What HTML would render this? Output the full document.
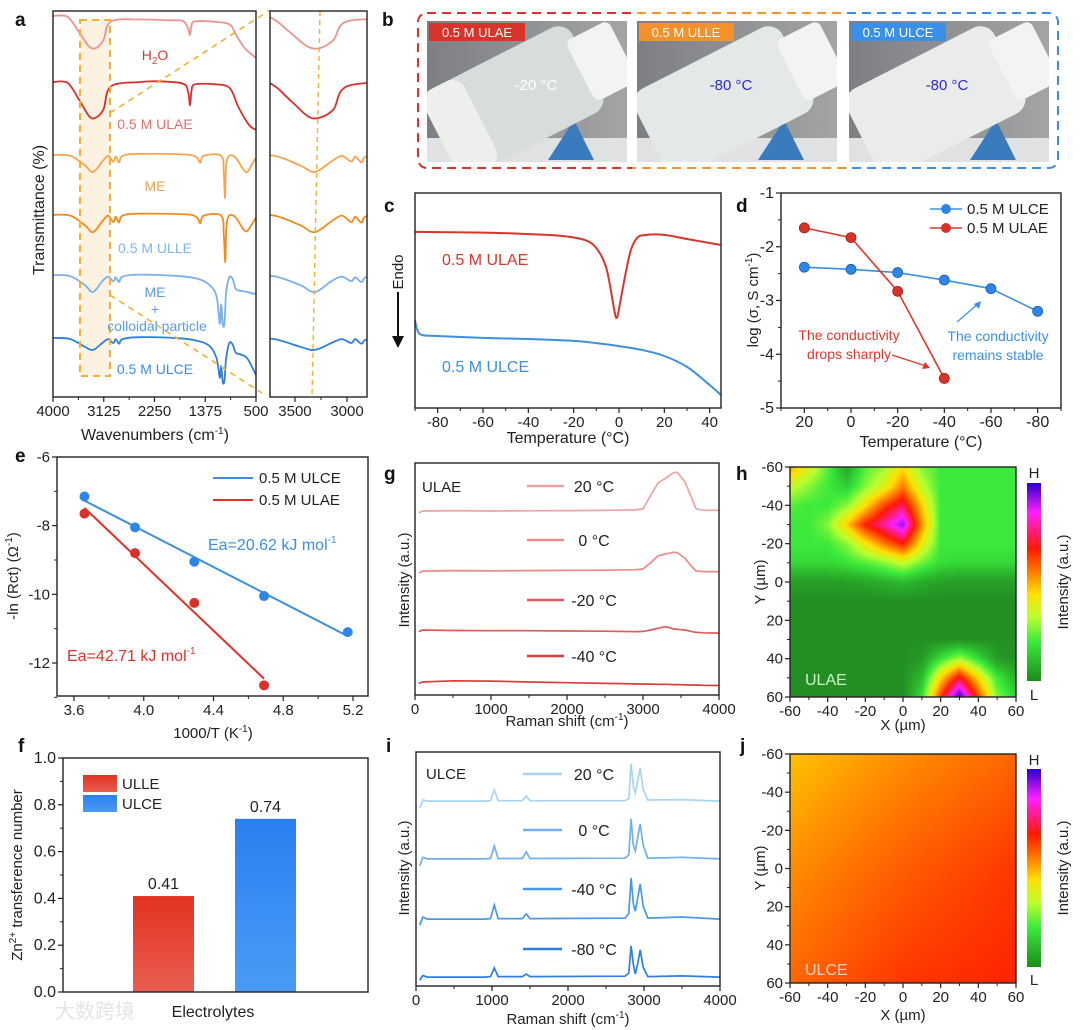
<!DOCTYPE html>
<html><head><meta charset="utf-8">
<style>
body{margin:0;background:#fff;width:1080px;height:1030px;overflow:hidden;position:relative;font-family:"Liberation Sans",Arial,sans-serif}
canvas{position:absolute}
#fig{position:absolute;left:0;top:0}
</style></head>
<body>
<canvas id="hmH" width="226" height="230" style="left:790px;top:467px"></canvas>
<canvas id="hmJ" width="226" height="229" style="left:790px;top:754px"></canvas>
<svg id="fig" width="1080" height="1030" xmlns="http://www.w3.org/2000/svg" font-family="Liberation Sans, Arial, sans-serif">
<defs>
<linearGradient id="photoBg" x1="0" y1="0" x2="1" y2="0"><stop offset="0" stop-color="#7d7f82"/><stop offset="1" stop-color="#a2a4a6"/></linearGradient>
<linearGradient id="barRed" x1="0" y1="0" x2="0" y2="1"><stop offset="0" stop-color="#e2321f"/><stop offset="1" stop-color="#e95d52"/></linearGradient>
<linearGradient id="barBlue" x1="0" y1="0" x2="0" y2="1"><stop offset="0" stop-color="#2a80f2"/><stop offset="1" stop-color="#4b9bf5"/></linearGradient>
<linearGradient id="cbar" x1="0" y1="0" x2="0" y2="1"><stop offset="0" stop-color="#2a00d0"/><stop offset="0.15" stop-color="#ff20ff"/><stop offset="0.33" stop-color="#ff1a00"/><stop offset="0.45" stop-color="#ff7a00"/><stop offset="0.56" stop-color="#ffe000"/><stop offset="0.68" stop-color="#b8ff30"/><stop offset="0.8" stop-color="#3cea3c"/><stop offset="1" stop-color="#1a8c1a"/></linearGradient>
<clipPath id="clipA"><rect x="53" y="11" width="203" height="386"/></clipPath>
<clipPath id="clipAi"><rect x="270" y="11" width="97" height="386"/></clipPath>
<clipPath id="cRed"><rect x="410" y="0" width="222" height="180"/></clipPath>
<clipPath id="cOr"><rect x="632" y="0" width="213" height="180"/></clipPath>
<clipPath id="cBl"><rect x="845" y="0" width="230" height="180"/></clipPath>
<clipPath id="photoClip"><rect x="427" y="21" width="200" height="141"/></clipPath>
</defs>

<!-- panel letters -->
<g font-weight="bold" font-size="19" fill="#111">
<text x="15" y="26">a</text>
<text x="382" y="26">b</text>
<text x="384" y="212">c</text>
<text x="736" y="212">d</text>
<text x="15" y="462">e</text>
<text x="384" y="480">g</text>
<text x="736" y="480">h</text>
<text x="18" y="752">f</text>
<text x="386" y="752">i</text>
<text x="740" y="752">j</text>
</g>

<!-- panel b photos -->
<g>
<rect x="418" y="13" width="640" height="155" rx="9" fill="none" stroke="#e0302a" stroke-width="2" stroke-dasharray="9,6" clip-path="url(#cRed)"/>
<rect x="418" y="13" width="640" height="155" rx="9" fill="none" stroke="#f5962e" stroke-width="2" stroke-dasharray="9,6" clip-path="url(#cOr)"/>
<rect x="418" y="13" width="640" height="155" rx="9" fill="none" stroke="#3a8fe8" stroke-width="2" stroke-dasharray="9,6" clip-path="url(#cBl)"/>
<g><g clip-path="url(#photoClip)">
<rect x="427" y="21" width="200" height="141" fill="url(#photoBg)"/>
<rect x="427" y="138" width="200" height="24" fill="#dfe1e3"/>
<line x1="470" y1="150" x2="590" y2="118" stroke="#999" stroke-width="2"/>
<polygon points="548,160 574,120 594,160" fill="#3a7bbd"/>
<g transform="rotate(-27 515 98)"><rect x="430" y="52" width="165" height="96" rx="16" fill="#d7dddd"/><rect x="430" y="52" width="45" height="96" rx="14" fill="#eeeeee"/></g>
<g transform="rotate(-27 600 62)"><rect x="578" y="28" width="48" height="68" rx="7" fill="#f3f3f3"/></g>
</g></g>
<g transform="translate(210,0)"><g clip-path="url(#photoClip)">
<rect x="427" y="21" width="200" height="141" fill="url(#photoBg)"/>
<rect x="427" y="138" width="200" height="24" fill="#dfe1e3"/>
<polygon points="548,160 574,120 594,160" fill="#3a7bbd"/>
<g transform="rotate(-27 515 98)"><rect x="430" y="52" width="165" height="96" rx="16" fill="#e4e8e8"/></g>
<g transform="rotate(-27 600 62)"><rect x="578" y="28" width="48" height="68" rx="7" fill="#f3f3f3"/></g>
</g></g>
<g transform="translate(422,0)"><g clip-path="url(#photoClip)">
<rect x="427" y="21" width="200" height="141" fill="url(#photoBg)"/>
<rect x="427" y="138" width="200" height="24" fill="#dfe1e3"/>
<polygon points="548,160 574,120 594,160" fill="#3a7bbd"/>
<g transform="rotate(-27 515 98)"><rect x="430" y="52" width="165" height="96" rx="16" fill="#eaecec"/></g>
<g transform="rotate(-27 600 62)"><rect x="578" y="28" width="48" height="68" rx="7" fill="#f3f3f3"/></g>
</g></g>
<rect x="429" y="23" width="96" height="18" fill="#d9342b"/>
<text x="477" y="37" font-size="13" fill="#fff" text-anchor="middle">0.5 M ULAE</text>
<rect x="639" y="23" width="95" height="18" fill="#f5902a"/>
<text x="686" y="37" font-size="13" fill="#fff" text-anchor="middle">0.5 M ULLE</text>
<rect x="851" y="23" width="95" height="18" fill="#3a8fe8"/>
<text x="898" y="37" font-size="13" fill="#fff" text-anchor="middle">0.5 M ULCE</text>
<text x="536" y="90" font-size="15" fill="#fff" text-anchor="middle">-20 °C</text>
<text x="731" y="90" font-size="15" fill="#2a2ad0" text-anchor="middle">-80 °C</text>
<text x="947" y="90" font-size="15" fill="#2a2ad0" text-anchor="middle">-80 °C</text>
</g>

<!-- panel a static -->
<rect x="80" y="20" width="30" height="356" fill="#fcecd8" opacity="0.75"/>
<g id="gA"></g>
<rect x="80" y="20" width="30" height="356" fill="none" stroke="#f5b030" stroke-width="2" stroke-dasharray="7,5"/>
<line x1="110" y1="113" x2="270" y2="10" stroke="#f5b030" stroke-width="1.6" stroke-dasharray="6,5"/>
<line x1="110" y1="295" x2="262" y2="393" stroke="#f5b030" stroke-width="1.6" stroke-dasharray="6,5"/>
<line x1="320" y1="11" x2="312" y2="397" stroke="#f5b030" stroke-width="1.4" stroke-dasharray="5,4"/>
<g font-size="14">
<text x="155" y="60" fill="#d83a3a" text-anchor="middle">H<tspan font-size="10" dy="4">2</tspan><tspan dy="-4">O</tspan></text>
<text x="155" y="129" fill="#e07070" text-anchor="middle">0.5 M ULAE</text>
<text x="155" y="191" fill="#f0a050" text-anchor="middle">ME</text>
<text x="155" y="253" fill="#7fb6f0" text-anchor="middle">0.5 M ULLE</text>
<text x="155" y="297" fill="#5a9cf0" text-anchor="middle">ME</text>
<text x="155" y="314" fill="#5a9cf0" text-anchor="middle">+</text>
<text x="157" y="331" fill="#5a9cf0" text-anchor="middle">colloidal particle</text>
<text x="155" y="374" fill="#3f8ce8" text-anchor="middle">0.5 M ULCE</text>
</g>
<text transform="translate(44,210) rotate(-90)" font-size="16" text-anchor="middle" fill="#222">Transmittance (%)</text>
<text x="155" y="440" font-size="16" text-anchor="middle" fill="#222">Wavenumbers (cm<tspan font-size="10" dy="-6">-1</tspan><tspan dy="6">)</tspan></text>

<!-- panel c static -->
<text x="442" y="265" font-size="16" fill="#d9362b">0.5 M ULAE</text>
<text x="442" y="372" font-size="16" fill="#3d8fe0">0.5 M ULCE</text>
<text transform="translate(403,272) rotate(-90)" font-size="15" text-anchor="middle" fill="#222">Endo</text>
<line x1="398" y1="292" x2="398" y2="338" stroke="#111" stroke-width="2"/>
<polygon points="392,336 404,336 398,348" fill="#111"/>
<text x="568" y="443" font-size="16" text-anchor="middle" fill="#222">Temperature (°C)</text>

<!-- panel d static -->
<text transform="translate(758,300) rotate(-90)" font-size="15" text-anchor="middle" fill="#222">log (σ, S cm<tspan font-size="10" dy="-6">-1</tspan><tspan dy="6">)</tspan></text>
<text x="921" y="447" font-size="16" text-anchor="middle" fill="#222">Temperature (°C)</text>
<g font-size="14">
<text x="849" y="340" fill="#e0352b" text-anchor="middle">The conductivity</text>
<text x="849" y="359" fill="#e0352b" text-anchor="middle">drops sharply</text>
<text x="998" y="341" fill="#3a8fe8" text-anchor="middle">The conductivity</text>
<text x="998" y="360" fill="#3a8fe8" text-anchor="middle">remains stable</text>
</g>
<line x1="892" y1="355" x2="926" y2="366" stroke="#e0352b" stroke-width="1.2"/>
<polygon points="930,368 922,369 925,362" fill="#e0352b"/>
<line x1="957" y1="322" x2="978" y2="304" stroke="#3a8fe8" stroke-width="1.2"/>
<polygon points="981,301 979,309 974,304" fill="#3a8fe8"/>

<!-- panel e static -->
<text transform="translate(18,576) rotate(-90)" font-size="15" text-anchor="middle" fill="#222">-ln (Rct) (Ω<tspan font-size="10" dy="-6">-1</tspan><tspan dy="6">)</tspan></text>
<text x="213" y="738" font-size="15" text-anchor="middle" fill="#222">1000/T (K<tspan font-size="10" dy="-6">-1</tspan><tspan dy="6">)</tspan></text>
<text x="208" y="550" font-size="16" fill="#3d8fe0">Ea=20.62 kJ mol<tspan font-size="10" dy="-7">-1</tspan></text>
<text x="67" y="661" font-size="16" fill="#e0302a">Ea=42.71 kJ mol<tspan font-size="10" dy="-7">-1</tspan></text>

<!-- panel f static -->
<text transform="translate(22,875) rotate(-90)" font-size="15" text-anchor="middle" fill="#222">Zn<tspan font-size="10" dy="-6">2+</tspan><tspan dy="6"> transference number</tspan></text>
<text x="213" y="1017" font-size="16" text-anchor="middle" fill="#222">Electrolytes</text>
<text x="55" y="1018" font-size="20" fill="#e4e4e4">大数跨境</text>

<!-- panel g / i static -->
<text transform="translate(409,580) rotate(-90)" font-size="15" text-anchor="middle" fill="#222">Intensity (a.u.)</text>
<text x="567" y="726" font-size="15" text-anchor="middle" fill="#222">Raman shift (cm<tspan font-size="10" dy="-6">-1</tspan><tspan dy="6">)</tspan></text>
<text x="422" y="492" font-size="15" fill="#222">ULAE</text>
<text transform="translate(409,868) rotate(-90)" font-size="15" text-anchor="middle" fill="#222">Intensity (a.u.)</text>
<text x="568" y="1024" font-size="15" text-anchor="middle" fill="#222">Raman shift (cm<tspan font-size="10" dy="-6">-1</tspan><tspan dy="6">)</tspan></text>
<text x="426" y="779" font-size="15" fill="#222">ULCE</text>

<!-- panel h / j static -->
<text transform="translate(765,582) rotate(-90)" font-size="15" text-anchor="middle" fill="#222">Y (µm)</text>
<text x="903" y="730" font-size="15" text-anchor="middle" fill="#222">X (µm)</text>
<text x="805" y="685" font-size="16" fill="#c8f5c8">ULAE</text>
<rect x="1027" y="483" width="14" height="198" fill="url(#cbar)"/>
<text x="1034" y="478" font-size="15" text-anchor="middle" fill="#222">H</text>
<text x="1034" y="700" font-size="15" text-anchor="middle" fill="#222">L</text>
<text transform="translate(1068,582) rotate(-90)" font-size="15" text-anchor="middle" fill="#222">Intensity (a.u.)</text>
<text transform="translate(765,868) rotate(-90)" font-size="15" text-anchor="middle" fill="#222">Y (µm)</text>
<text x="903" y="1020" font-size="15" text-anchor="middle" fill="#222">X (µm)</text>
<text x="805" y="975" font-size="16" fill="#ffd0c8">ULCE</text>
<rect x="1027" y="769" width="14" height="198" fill="url(#cbar)"/>
<text x="1034" y="765" font-size="15" text-anchor="middle" fill="#222">H</text>
<text x="1034" y="985" font-size="15" text-anchor="middle" fill="#222">L</text>
<text transform="translate(1068,868) rotate(-90)" font-size="15" text-anchor="middle" fill="#222">Intensity (a.u.)</text>
</svg>

<script>
// ---------- DATA ----------
const ftirH2O = [[4000,98.7],[3750,98.5],[3550,94.5],[3380,90.8],[3260,90.4],[3130,92.5],[3000,97.3],[2500,97.8],[2000,97.6],[1760,97.4],[1670,95.5],[1638,93.8],[1610,96.3],[1550,97.3],[1200,97.2],[950,96.5],[850,94],[700,90.5],[500,87.8]];
const ftirULAE = [[4000,81.6],[3750,81.4],[3550,77],[3380,72.8],[3270,72.3],[3130,74.5],[3000,80.5],[2500,81.6],[2200,81.8],[1760,81.2],[1670,79],[1638,75.6],[1610,79.5],[1550,81],[1200,81],[950,80],[800,75],[620,70.5],[500,69.2]];
const ftirME = [[4000,62.7],[3700,62.5],[3450,60],[3310,58.3],[3150,61],[3050,62.5],[2960,61],[2920,62.3],[2860,60.8],[2800,62.5],[2500,63],[1700,62.8],[1520,62],[1460,60.7],[1400,62.5],[1100,62.5],[1055,58],[1035,51.6],[1015,60],[960,62.5],[850,62],[720,59],[650,58.3],[560,60.5],[500,62]];
const ftirULLE = [[4000,47.2],[3700,47],[3450,44.5],[3310,42.7],[3150,45.5],[3050,47],[2960,45.3],[2920,46.7],[2860,45.2],[2800,47],[2500,47.5],[1700,47.3],[1520,46.5],[1460,45],[1400,47],[1100,47],[1055,42],[1030,35],[1010,44],[960,47],[850,46.5],[720,43.5],[650,43],[560,45],[500,46.5]];
const ftirMEC = [[4000,31.6],[3700,31.3],[3450,29],[3310,27.2],[3150,30],[3050,31.2],[2960,30],[2920,31],[2860,29.8],[2800,31.2],[2500,31.7],[1800,31.3],[1500,30.6],[1300,29],[1180,26],[1125,19],[1100,24],[1075,19],[1045,19],[1015,27],[960,31],[900,30.5],[850,28],[760,27.5],[650,27.2],[500,26.6]];
const ftirULCE = [[4000,15.3],[3700,15],[3450,13],[3310,12.2],[3150,14],[3050,15],[2960,14],[2920,15],[2860,13.8],[2800,15],[2500,15.5],[1800,15.2],[1500,14.5],[1300,13.2],[1180,10],[1125,5],[1100,8],[1075,3.9],[1045,4.2],[1015,10],[960,14],[900,13.5],[850,11.5],[760,11],[650,10],[500,5.7]];
const ftirSeries = [ftirH2O, ftirULAE, ftirME, ftirULLE, ftirMEC, ftirULCE];
const ftirColors = ['#f29090','#d8312c','#f5a550','#f28a1e','#7ab0f0','#2e7fe0'];
const ftirNames = ['h2o','ulae','me','ulle','me-colloid','ulce'];
const ftirMainTicks = [4000,3125,2250,1375,500];
const ftirInsetTicks = [3500,3000];

const dscTemp = [-90,-60,-40,-25,-15,-10,-6,-4,-2,-1,0,2,5,8,12,20,30,45];
const dscULAE = [81.9,81.6,80.9,80,78.1,74.4,66.5,57.2,45,41.9,46,57.5,72.6,79.1,80.5,80.5,78.6,75.8];
const dscTempB = [-90,-89,-87,-80,-60,-40,-20,-10,0,10,20,30,40,45];
const dscULCE = [40.9,36.3,34,33.5,32.6,32.1,31.2,30.2,28.8,27,24.2,19.1,10.7,6];
const cTicks = [-80,-60,-40,-20,0,20,40];

const dTempCE = [20,0,-20,-40,-60,-80];
const dULCE = [-2.38,-2.42,-2.48,-2.62,-2.78,-3.2];
const dTempAE = [20,0,-20,-40];
const dULAE = [-1.65,-1.83,-2.83,-4.45];
const dXTicks = [20,0,-20,-40,-60,-80];
const dYTicks = [-1,-2,-3,-4,-5];

const eXCE = [3.66,3.95,4.29,4.69,5.17];
const eULCE = [-7.15,-8.05,-9.05,-10.05,-11.1];
const eXAE = [3.66,3.95,4.29,4.69];
const eULAE = [-7.65,-8.8,-10.25,-12.65];
const eXTicks = [3.6,4.0,4.4,4.8,5.2];
const eYTicks = [-6,-8,-10,-12];

const fCats = ['ULLE','ULCE'];
const fVals = [0.41,0.74];
const fYTicks = [0.0,0.2,0.4,0.6,0.8,1.0];

const gWn = [50,100,500,1000,1500,2000,2500,2900,3000,3100,3200,3300,3400,3450,3550,3650,3700,3800,4000];
const g20 = [78.5,79.3,79.5,79.3,79.4,79.5,79.6,79.8,80.2,86,91.5,93.5,95.8,96,92,84,80.2,79.6,79.6];
const g0 = [52.6,53.4,53.6,53.5,53.6,53.7,53.8,54,54.3,57,60,60.8,61.5,61.4,59,55,53.4,53.2,53.2];
const gm20 = [27.3,28,27.8,27.7,27.7,27.6,27.5,27.3,27.4,28,28.8,29.5,28.5,28.3,28,27.3,27,26.8,26.7];
const gm40 = [5,5.6,6.1,6.0,5.6,5.3,5.0,4.8,4.7,4.7,4.6,4.6,4.5,4.5,4.4,4.3,4.3,4.2,4.1];
const gSeries = [g20,g0,gm20,gm40];
const gLabels = ['20 °C','0 °C','-20 °C','-40 °C'];
const gColors = ['#f2a2a2','#ee8a8a','#e25a5a','#e03c3c'];
const ramanTicks = [0,1000,2000,3000,4000];

const iWn = [50,90,150,900,980,1030,1080,1400,1450,1500,2750,2800,2830,2860,2885,2920,2950,2990,3050,3500,4000];
const i20 = [76,79.5,79,79,79.2,83.8,79.2,79.2,81.2,79.2,79.2,80,94.9,85,82.5,88,93.2,84,79.5,79.6,79];
const i0 = [51.3,55,54.3,54.3,54.5,59.8,54.5,54.5,57.3,54.5,54.6,56,71.4,60,57.7,64,69.2,60,54.6,55,54.3];
const im40 = [26,29.5,28.6,28.6,28.8,34.6,28.8,28.8,30.8,28.8,29,31,46.2,35,32,38,43.6,34,29,29.5,28.6];
const im80 = [2.5,4.5,3.8,3.8,4,7.7,4,4,5.1,4,4.2,5.5,17.1,9,5.1,10,15.4,8,4,4.3,3.8];
const iSeries = [i20,i0,im40,im80];
const iLabels = ['20 °C','0 °C','-40 °C','-80 °C'];
const iColors = ['#a8d4f4','#70b0ee','#4a98ea','#2f7ee6'];

const hGrid = [
 [0.55,0.45,0.32,0.18,0.32,0.38,0.5,0.36,0.3,0.3,0.3,0.3,0.3],
 [0.42,0.36,0.3,0.25,0.36,0.45,0.6,0.42,0.3,0.3,0.3,0.3,0.3],
 [0.32,0.3,0.3,0.36,0.5,0.66,0.76,0.52,0.3,0.3,0.3,0.3,0.3],
 [0.3,0.3,0.36,0.52,0.7,0.8,0.92,0.58,0.3,0.3,0.3,0.3,0.3],
 [0.3,0.3,0.3,0.36,0.48,0.6,0.7,0.48,0.3,0.3,0.3,0.3,0.3],
 [0.27,0.27,0.27,0.29,0.32,0.36,0.42,0.34,0.28,0.27,0.27,0.27,0.27],
 [0.16,0.16,0.16,0.17,0.18,0.2,0.22,0.19,0.17,0.16,0.16,0.16,0.16],
 [0.13,0.13,0.13,0.13,0.13,0.13,0.13,0.13,0.13,0.13,0.13,0.13,0.13],
 [0.13,0.13,0.13,0.13,0.13,0.13,0.13,0.13,0.13,0.13,0.13,0.13,0.13],
 [0.13,0.13,0.13,0.13,0.13,0.13,0.13,0.13,0.13,0.13,0.13,0.13,0.13],
 [0.13,0.13,0.13,0.13,0.13,0.13,0.13,0.15,0.28,0.38,0.28,0.16,0.13],
 [0.13,0.13,0.13,0.13,0.13,0.13,0.13,0.22,0.5,0.72,0.5,0.3,0.2],
 [0.13,0.13,0.13,0.13,0.13,0.13,0.13,0.28,0.66,1.0,0.66,0.36,0.26]];
const jGrid = [[0.53,0.58,0.62],[0.58,0.63,0.67],[0.62,0.67,0.69]];
const mapTicks = [-60,-40,-20,0,20,40,60];
const cmapStops = [[0,'#0f7a0f'],[0.13,'#238f23'],[0.22,'#2dbb2d'],[0.3,'#3cea3c'],[0.4,'#b8ff30'],[0.5,'#ffe000'],[0.6,'#ff7a00'],[0.7,'#ff1a00'],[0.85,'#ff20ff'],[1,'#2a00d0']];

// ---------- HELPERS ----------
const NS='http://www.w3.org/2000/svg';
const svg=document.getElementById('fig');
function mk(tagName,attrs,parent){const e=document.createElementNS(NS,tagName);for(const k in attrs)e.setAttribute(k,attrs[k]);(parent||svg).appendChild(e);return e;}
function label(e,n){
 
 
 return e;}
function lin(d0,d1,r0,r1){return v=>r0+(v-d0)/(d1-d0)*(r1-r0);}
function txt(x,y,s,size,anchor,fill,parent){const t=mk('text',{x:x,y:y,'font-size':size,'text-anchor':anchor,fill:fill||'#222'},parent);t.textContent=s;return t;}
function smooth(pts){let d='M'+pts[0][0].toFixed(1)+','+pts[0][1].toFixed(1);
 for(let i=0;i<pts.length-1;i++){const p0=pts[i-1]||pts[i],p1=pts[i],p2=pts[i+1],p3=pts[i+2]||p2;
  const c1=[p1[0]+(p2[0]-p0[0])/6,p1[1]+(p2[1]-p0[1])/6],c2=[p2[0]-(p3[0]-p1[0])/6,p2[1]-(p3[1]-p1[1])/6];
  d+=' C'+c1[0].toFixed(1)+','+c1[1].toFixed(1)+' '+c2[0].toFixed(1)+','+c2[1].toFixed(1)+' '+p2[0].toFixed(1)+','+p2[1].toFixed(1);}
 return d;}
function poly(pts){return 'M'+pts.map(p=>p[0].toFixed(1)+','+p[1].toFixed(1)).join(' L');}
function frame(b,n){const r=mk('rect',{x:b.l,y:b.t,width:b.r-b.l,height:b.b-b.t,fill:'none',stroke:'#222','stroke-width':1.4});label(r,n);}
function xAxis(b,sx,major,minor,labs,fs,n){const g=mk('g',{});label(g,n);
 major.forEach((v,i)=>{mk('line',{x1:sx(v),y1:b.b,x2:sx(v),y2:b.b+5,stroke:'#222','stroke-width':1.2},g);
  const t=txt(sx(v),b.b+19,labs[i],fs,'middle','#222',g);label(t,n+'-tick-label');});
 minor.forEach(v=>mk('line',{x1:sx(v),y1:b.b,x2:sx(v),y2:b.b+3,stroke:'#222','stroke-width':1},g));}
function yAxis(b,sy,major,minor,labs,fs,n){const g=mk('g',{});label(g,n);
 major.forEach((v,i)=>{mk('line',{x1:b.l-5,y1:sy(v),x2:b.l,y2:sy(v),stroke:'#222','stroke-width':1.2},g);
  const t=txt(b.l-7,sy(v)+5,labs[i],fs,'end','#222',g);label(t,n+'-tick-label');});
 minor.forEach(v=>mk('line',{x1:b.l-3,y1:sy(v),x2:b.l,y2:sy(v),stroke:'#222','stroke-width':1},g));}
function mids(arr){const m=[];for(let i=0;i<arr.length-1;i++)m.push((arr[i]+arr[i+1])/2);return m;}

// ---------- PANEL A ----------
(function(){
 const gA=document.getElementById('gA');
 const b={l:53,t:11,r:256,b:397}, bi={l:270,t:11,r:367,b:397};
 const sx=lin(4000,500,b.l,b.r), sxi=lin(3740,2808,bi.l,bi.r), sy=lin(0,100,397,11);
 ftirSeries.forEach((s,k)=>{
  const p=mk('path',{d:smooth(s.map(q=>[sx(q[0]),sy(q[1])])),fill:'none',stroke:ftirColors[k],'stroke-width':1.8,'clip-path':'url(#clipA)'},gA);
  label(p,'ftir-'+ftirNames[k]);
  const pi=mk('path',{d:smooth(s.map(q=>[sxi(q[0]),sy(q[1])])),fill:'none',stroke:ftirColors[k],'stroke-width':1.8,'clip-path':'url(#clipAi)'},gA);
  label(pi,'ftir-inset-'+ftirNames[k]);
 });
 frame(b,'plot-frame-a'); frame(bi,'plot-frame-a-inset');
 xAxis(b,sx,ftirMainTicks,mids(ftirMainTicks),ftirMainTicks.map(String),15,'x-axis-a');
 xAxis(bi,sxi,ftirInsetTicks,[3250],ftirInsetTicks.map(String),15,'x-axis-a-inset');
})();

// ---------- PANEL C ----------
(function(){
 const b={l:415,t:193,r:721,b:408};
 const sx=lin(-90,45,b.l,b.r), sy=lin(0,100,408,193);
 label(mk('path',{d:smooth(dscTemp.map((t,i)=>[sx(t),sy(dscULAE[i])])),fill:'none',stroke:'#d9362b','stroke-width':2}),'dsc-ulae');
 label(mk('path',{d:smooth(dscTempB.map((t,i)=>[sx(t),sy(dscULCE[i])])),fill:'none',stroke:'#3d8fe0','stroke-width':2}),'dsc-ulce');
 frame(b,'plot-frame-c');
 xAxis(b,sx,cTicks,mids(cTicks).concat([-90]),cTicks.map(String),15,'x-axis-c');
})();

// ---------- PANEL D ----------
(function(){
 const b={l:781,t:193,r:1061,b:408};
 const sx=lin(30,-90,b.l,b.r), sy=lin(-1,-5,193,408);
 label(mk('path',{d:poly(dTempCE.map((t,i)=>[sx(t),sy(dULCE[i])])),fill:'none',stroke:'#3a8fe8','stroke-width':1.6}),'line-d-ulce');
 label(mk('path',{d:poly(dTempAE.map((t,i)=>[sx(t),sy(dULAE[i])])),fill:'none',stroke:'#e0352b','stroke-width':1.6}),'line-d-ulae');
 dTempCE.forEach((t,i)=>{const c=mk('circle',{cx:sx(t),cy:sy(dULCE[i]),r:5,fill:'#2f86e6',stroke:'#1a5fb0','stroke-width':0.8});label(c,'point-d-ulce');});
 dTempAE.forEach((t,i)=>{const c=mk('circle',{cx:sx(t),cy:sy(dULAE[i]),r:5,fill:'#d8322a',stroke:'#9a1e18','stroke-width':0.8});label(c,'point-d-ulae');});
 frame(b,'plot-frame-d');
 xAxis(b,sx,dXTicks,mids(dXTicks).concat([30,-90]).filter(v=>v<=30&&v>=-90),dXTicks.map(String),16,'x-axis-d');
 yAxis(b,sy,dYTicks,mids(dYTicks),dYTicks.map(String),16,'y-axis-d');
 const lg=mk('g',{}); label(lg,'legend-d');
 [['#3a8fe8','#2f86e6','0.5 M ULCE',209],['#e0352b','#d8322a','0.5 M ULAE',228]].forEach(e=>{
  mk('line',{x1:930,y1:e[3],x2:962,y2:e[3],stroke:e[0],'stroke-width':1.6},lg);
  mk('circle',{cx:946,cy:e[3],r:5,fill:e[1]},lg);
  label(txt(967,e[3]+5,e[2],15,'start','#222',lg),'legend-entry-d');});
})();

// ---------- PANEL E ----------
(function(){
 const b={l:57,t:457,r:368,b:696};
 const sx=lin(3.6,5.2,74,353), sy=lin(-6,-12,457,663);
 function fit(xs,ys){const n=xs.length,mx=xs.reduce((a,c)=>a+c,0)/n,my=ys.reduce((a,c)=>a+c,0)/n;
  let sxy=0,sxx=0;xs.forEach((x,i)=>{sxy+=(x-mx)*(ys[i]-my);sxx+=(x-mx)*(x-mx);});const m=sxy/sxx;return x=>my+m*(x-mx);}
 const fCE=fit(eXCE,eULCE), fAE=fit(eXAE,eULAE);
 const x0=eXCE[0],x1=eXCE[eXCE.length-1],a0=eXAE[0],a1=eXAE[eXAE.length-1];
 label(mk('line',{x1:sx(x0),y1:sy(fCE(x0)),x2:sx(x1),y2:sy(fCE(x1)),stroke:'#3d8fe0','stroke-width':2}),'fit-line-e-ulce');
 label(mk('line',{x1:sx(a0),y1:sy(fAE(a0)),x2:sx(a1),y2:sy(fAE(a1)),stroke:'#e0302a','stroke-width':2}),'fit-line-e-ulae');
 eXCE.forEach((x,i)=>label(mk('circle',{cx:sx(x),cy:sy(eULCE[i]),r:5,fill:'#2f86e6'}),'point-e-ulce'));
 eXAE.forEach((x,i)=>label(mk('circle',{cx:sx(x),cy:sy(eULAE[i]),r:5,fill:'#d8322a'}),'point-e-ulae'));
 frame(b,'plot-frame-e');
 xAxis(b,sx,eXTicks,mids(eXTicks),eXTicks.map(v=>v.toFixed(1)),15,'x-axis-e');
 yAxis(b,sy,eYTicks,mids(eYTicks).concat([-13]),eYTicks.map(String),15,'y-axis-e');
 const lg=mk('g',{}); label(lg,'legend-e');
 [['#3d8fe0','0.5 M ULCE',478],['#e0302a','0.5 M ULAE',500]].forEach(e=>{
  mk('line',{x1:213,y1:e[2],x2:253,y2:e[2],stroke:e[0],'stroke-width':2},lg);
  label(txt(259,e[2]+5,e[1],15,'start','#222',lg),'legend-entry-e');});
})();

// ---------- PANEL F ----------
(function(){
 const b={l:63,t:758,r:368,b:992};
 const sy=lin(0,1,992,758);
 const cx=i=>b.l+100.5+i*102, bw=61;
 const fills=['url(#barRed)','url(#barBlue)'];
 fVals.forEach((v,i)=>{
  const r=mk('rect',{x:cx(i)-bw/2,y:sy(v),width:bw,height:sy(0)-sy(v),fill:fills[i]});label(r,'bar-'+fCats[i].toLowerCase());
  label(txt(cx(i),sy(v)-7,v.toFixed(2),16,'middle','#222'),'bar-value-'+fCats[i].toLowerCase());});
 frame(b,'plot-frame-f');
 yAxis(b,sy,fYTicks,mids(fYTicks),fYTicks.map(v=>v.toFixed(1)),16,'y-axis-f');
 const lg=mk('g',{}); label(lg,'legend-f');
 fCats.forEach((c,i)=>{mk('rect',{x:83,y:775+i*20,width:34,height:17,fill:fills[i]},lg);
  label(txt(122,789+i*20,c,15,'start','#222',lg),'legend-entry-f');});
})();

// ---------- RAMAN ----------
function raman(b,wn,series,cols,labs,lineX,labX,rows,n){
 const sx=lin(0,4000,b.l,b.r), sy=lin(0,100,b.b,b.t);
 series.forEach((s,k)=>{label(mk('path',{d:poly(wn.map((w,i)=>[sx(w),sy(s[i])])),fill:'none',stroke:cols[k],'stroke-width':1.7}),n+'-spectrum-'+k);
  mk('line',{x1:lineX[0],y1:rows[k],x2:lineX[1],y2:rows[k],stroke:cols[k],'stroke-width':2.5});
  label(txt(labX,rows[k]+6,labs[k],16,'middle','#222'),n+'-legend-entry');});
 frame(b,'plot-frame-'+n);
 xAxis(b,sx,ramanTicks,mids(ramanTicks),ramanTicks.map(String),15,'x-axis-'+n);
}
raman({l:415,t:463,r:719,b:695},gWn,gSeries,gColors,gLabels,[527,564],594,[486,540,600,656],'g');
raman({l:416,t:752,r:720,b:986},iWn,iSeries,iColors,iLabels,[523,562],594,[774,830,889,949],'i');

// ---------- HEATMAPS ----------
function hex(c){return [parseInt(c.substr(1,2),16),parseInt(c.substr(3,2),16),parseInt(c.substr(5,2),16)];}
function cmap(v){v=Math.max(0,Math.min(1,v));for(let i=0;i<cmapStops.length-1;i++){const a=cmapStops[i],bb=cmapStops[i+1];
 if(v<=bb[0]){const t=(v-a[0])/(bb[0]-a[0]),ca=hex(a[1]),cb=hex(bb[1]);return [0,1,2].map(j=>ca[j]+(cb[j]-ca[j])*t);}}return hex(cmapStops[cmapStops.length-1][1]);}
function heat(id,grid){const cv=document.getElementById(id),ctx=cv.getContext('2d'),W=cv.width,H=cv.height;
 const img=ctx.createImageData(W,H),R=grid.length-1,C=grid[0].length-1;
 for(let y=0;y<H;y++)for(let x=0;x<W;x++){const gx=x/(W-1)*C,gy=y/(H-1)*R,i0=Math.min(Math.floor(gy),R-1),j0=Math.min(Math.floor(gx),C-1),fy=gy-i0,fx=gx-j0;
  const v=grid[i0][j0]*(1-fx)*(1-fy)+grid[i0][j0+1]*fx*(1-fy)+grid[i0+1][j0]*(1-fx)*fy+grid[i0+1][j0+1]*fx*fy;
  const c=cmap(v),p=(y*W+x)*4;img.data[p]=c[0];img.data[p+1]=c[1];img.data[p+2]=c[2];img.data[p+3]=255;}
 ctx.putImageData(img,0,0);}
heat('hmH',hGrid); heat('hmJ',jGrid);
[[{l:790,t:467,r:1016,b:697},'h'],[{l:790,t:754,r:1016,b:983},'j']].forEach(([b,n])=>{
 const sx=lin(-60,60,b.l,b.r), sy=lin(-60,60,b.t,b.b);
 frame(b,'plot-frame-'+n);
 xAxis(b,sx,mapTicks,mids(mapTicks),mapTicks.map(String),15,'x-axis-'+n);
 yAxis(b,sy,mapTicks,mids(mapTicks),mapTicks.map(String),15,'y-axis-'+n);
});
</script>
</body></html>
